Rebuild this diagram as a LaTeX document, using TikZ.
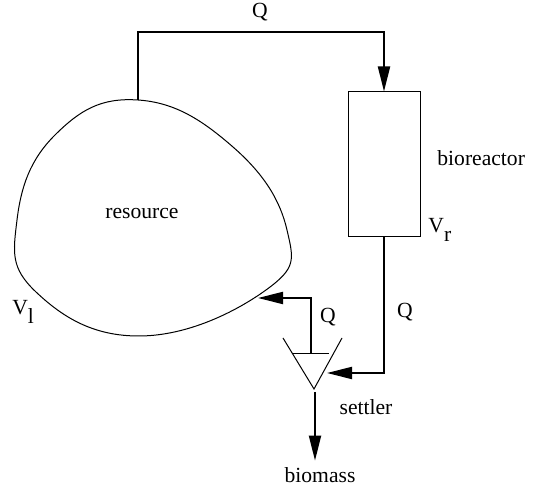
\documentclass[tikz,border=0pt]{standalone}
\usepackage{fontspec}
\setmainfont{Liberation Serif}
\usetikzlibrary{arrows.meta,positioning}
\begin{document}
\begin{tikzpicture}[x=0.5pt,y=-0.5pt,
    flow/.style={-{Triangle[length=12.5pt,width=6pt]},line width=1pt},
    thin line/.style={line width=0.5pt},
    lbl/.style={inner sep=0pt,anchor=base},
    font=\rmfamily\fontsize{10.8}{13}\selectfont]
    \useasboundingbox (0,0) rectangle (536,490);

    % resource tank
    \draw[thin line] plot[smooth cycle,tension=0.75] coordinates {(138,100) (233,147) (287,230) (266,290) (140,336) (36,292) (17,220) (55,135)};
    \coordinate (out) at (138,100);
    \coordinate (back) at (258,298);

    % bioreactor
    \node[draw,thin line,minimum width=36pt,minimum height=72.5pt,inner sep=0pt] (reactor) at (384,164.5) {};

    % settler
    \coordinate (settler) at (314,389);
    \draw[thin line] (283,338) -- (settler) -- (342,338);
    \draw[thin line] (293,354) -- (329,354);
    \coordinate (overflow) at (311,354);
    \coordinate (feed) at (327,373);
    \coordinate (drain) at (315,392);

    \node[lbl] (biomass) at (320,483) {biomass};

    \draw[flow] (out) -- (138,32) -| (reactor.north);
    \draw[flow] (reactor.south) |- (feed);
    \draw[flow] (overflow) |- (back);
    \draw[flow,shorten >=3.5pt] (drain) -- (drain |- biomass.north);

    \node[lbl] (qtop) at (260,18) {Q};
    \node[lbl] (resource) at (142,219) {resource};
    \node[lbl,anchor=base west] (reactorlbl) at (437,166) {bioreactor};
    \node[lbl,anchor=base west] (vr) at (428,233) {V\raisebox{-4.5pt}{r}};
    \node[lbl,anchor=base west] (vl) at (12,315) {V\raisebox{-4.5pt}{l}};
    \node[lbl] (qfeed) at (405,318) {Q};
    \node[lbl] (qback) at (328,323) {Q};
    \node[lbl] (settlerlbl) at (366,415) {settler};
\end{tikzpicture}
\end{document}
